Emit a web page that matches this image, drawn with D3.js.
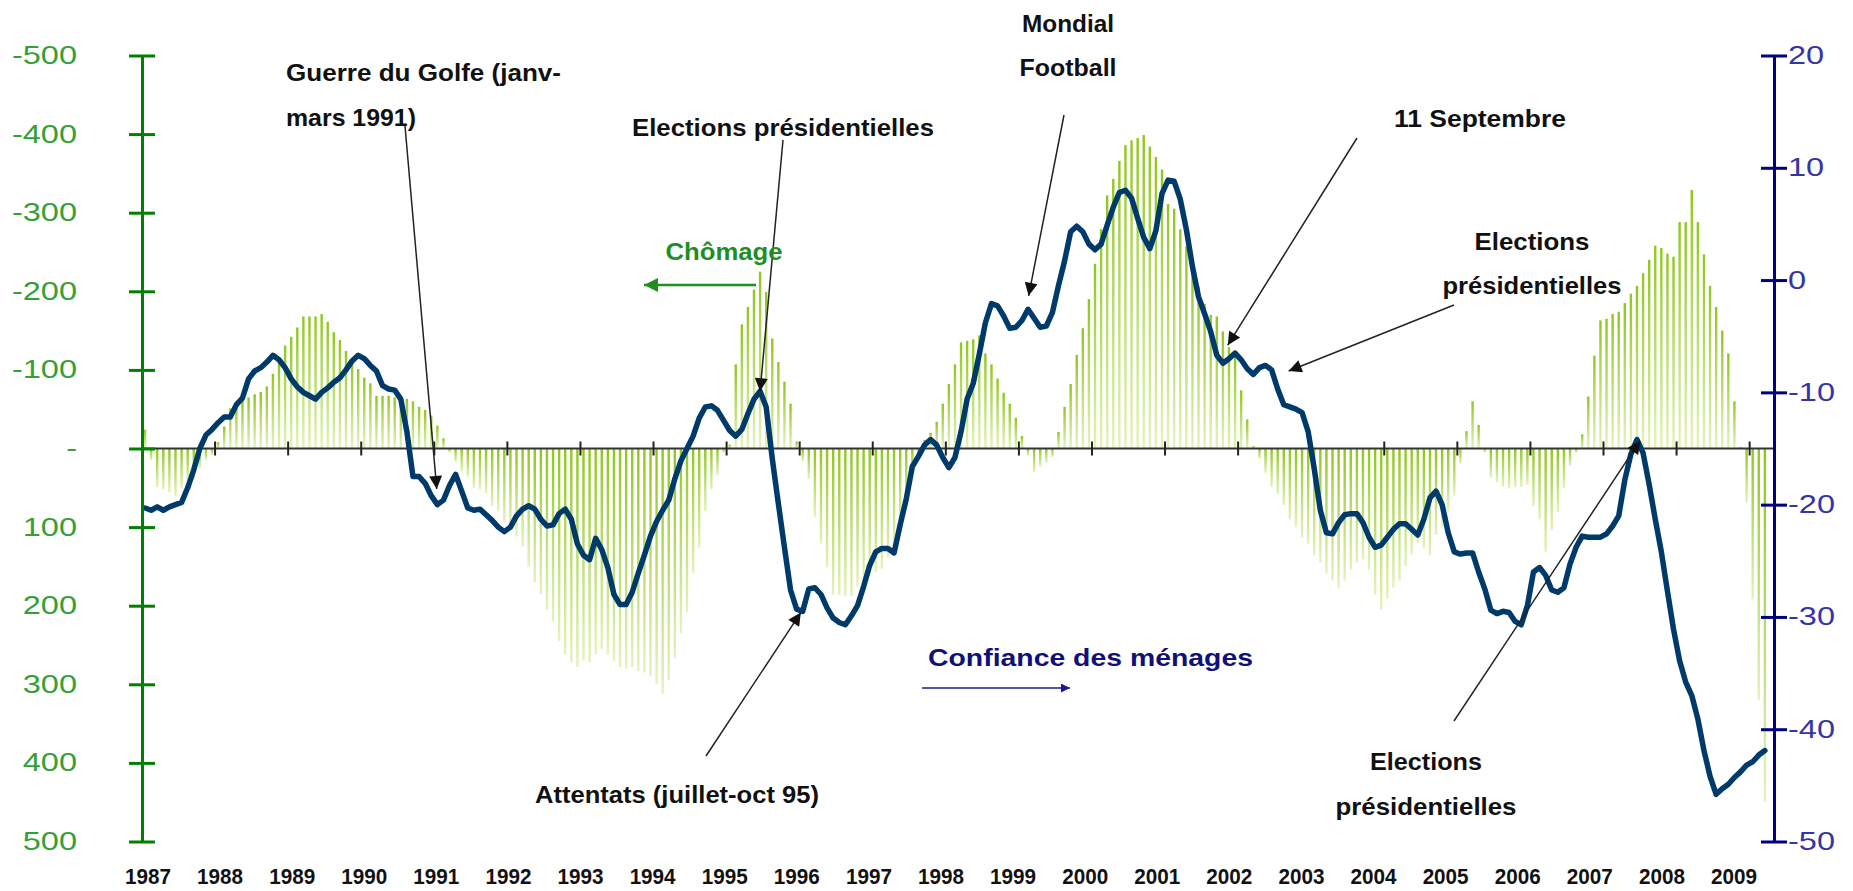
<!DOCTYPE html>
<html>
<head>
<meta charset="utf-8">
<script src="https://cdn.jsdelivr.net/npm/d3@7"></script>
<style>
  html, body { margin: 0; padding: 0; background: #fff; }
  svg { display: block; }
  .note { font-family: 'Liberation Sans Narrow', 'Arial Narrow', 'Liberation Sans', Arial, sans-serif; font-weight: bold; font-size: 24px; }
</style>
</head>
<body>
<svg id="chart"></svg>
<script>
const SVG_W = 1853;
const SVG_H = 891;
const PLOT  = { left: 142, right: 1774, top: 55.5, bottom: 841.5 };

const YEAR_LABELS = ['1987', '1988', '1989', '1990', '1991', '1992', '1993', '1994', '1995', '1996', '1997', '1998',
                     '1999', '2000', '2001', '2002', '2003', '2004', '2005', '2006', '2007', '2008', '2009'];
const LEFT_TICKS  = [-500, -400, -300, -200, -100, 0, 100, 200, 300, 400, 500];
const RIGHT_TICKS = [20, 10, 0, -10, -20, -30, -40, -50];

// variation mensuelle du chômage (milliers), jan 1987 -> mars 2009
const CHOMAGE = [
  -24, 15, 49, 52, 56, 61, 50, 42, 40, 25, 15, 8,
  -8, -28, -51, -56, -61, -65, -69, -72, -79, -95, -110, -131,
  -142, -154, -168, -168, -168, -171, -161, -148, -138, -124, -110, -101,
  -90, -83, -67, -67, -67, -65, -60, -63, -60, -53, -49, -42,
  -29, -13, 5, 17, 29, 36, 50, 52, 57, 73, 80, 94,
  105, 112, 125, 150, 170, 185, 205, 220, 245, 262, 272, 278,
  270, 272, 262, 255, 262, 270, 278, 280, 278, 283, 285, 290,
  300, 312, 295, 267, 235, 208, 158, 126, 80, 52, 34, 5,
  -5, -107, -158, -180, -202, -225, -199, -140, -110, -85, -57, -9,
  16, 39, 87, 121, 151, 186, 186, 188, 188, 176, 167, 162,
  157, 153, 139, 125, 107, 75, 34, 11, -11, -20, -34, -57,
  -82, -107, -135, -137, -139, -144, -121, -107, -89, -71, -57, -39,
  -16, 9, 30, 23, 18, 11, -21, -53, -82, -119, -153, -190,
  -235, -279, -322, -343, -366, -386, -392, -395, -399, -384, -371, -355,
  -311, -305, -279, -257, -229, -206, -184, -170, -168, -149, -129, -117,
  -74, -37, -3, 13, 31, 49, 58, 72, 90, 100, 113, 122,
  136, 145, 159, 168, 177, 168, 154, 145, 141, 154, 186, 205,
  191, 177, 168, 150, 135, 120, 127, 136, 110, 100, 80, 60,
  19, -22, -60, -30, 5, 37, 43, 49, 51, 49, 49, 46,
  73, 90, 132, 104, 81, 50, 22, 5, -18, -66, -118, -163,
  -165, -171, -174, -185, -197, -207, -223, -240, -258, -255, -248, -244,
  -288, -288, -329, -288, -247, -207, -180, -150, -121, -60, -2, 69,
  192, 320, 449
];

// confiance des ménages (solde d'opinion), jan 1987 -> mars 2009
const CONFIANCE = [
  -20.3, -20.5, -20.2, -20.5, -20.2, -20.0, -19.8, -18.5, -16.9, -15.0, -13.8, -13.3,
  -12.7, -12.2, -12.2, -11.1, -10.5, -8.8, -8.1, -7.8, -7.3, -6.7, -7.1, -7.8,
  -8.8, -9.5, -10.0, -10.3, -10.6, -10.0, -9.6, -9.1, -8.7, -8.0, -7.2, -6.7,
  -7.0, -7.6, -8.1, -9.4, -9.7, -9.8, -10.6, -13.5, -17.5, -17.5, -18.1, -19.2,
  -20.0, -19.6, -18.3, -17.3, -18.8, -20.3, -20.5, -20.4, -20.9, -21.4, -22.0, -22.4,
  -22.0, -21.0, -20.4, -20.1, -20.4, -21.3, -21.9, -21.8, -20.8, -20.4, -21.3, -23.5,
  -24.5, -24.9, -23.0, -24.0, -25.6, -28.0, -28.9, -28.9, -27.8, -26.1, -24.5, -22.8,
  -21.5, -20.5, -19.6, -17.7, -16.1, -15.0, -13.9, -12.3, -11.3, -11.2, -11.6, -12.5,
  -13.4, -13.9, -13.3, -11.9, -10.6, -9.9, -11.3, -15.9, -19.9, -23.8, -27.6, -29.3,
  -29.5, -27.5, -27.4, -28.0, -29.2, -30.1, -30.5, -30.7, -29.9, -29.0, -27.3, -25.4,
  -24.2, -23.9, -23.9, -24.3, -21.8, -19.5, -16.6, -15.7, -14.7, -14.2, -14.7, -15.8,
  -16.7, -15.8, -13.5, -10.6, -9.2, -6.6, -3.8, -2.1, -2.3, -3.2, -4.3, -4.2,
  -3.6, -2.6, -3.4, -4.2, -4.1, -2.9, -0.5, 1.7, 4.3, 4.8, 4.3, 3.2,
  2.7, 3.2, 4.9, 6.5, 7.8, 8.0, 7.3, 5.5, 3.8, 2.8, 4.4, 7.7,
  8.9, 8.8, 7.2, 4.5, 1.2, -1.5, -3.0, -4.6, -6.7, -7.4, -7.0, -6.5,
  -7.1, -7.9, -8.4, -7.8, -7.6, -8.0, -9.7, -11.1, -11.3, -11.5, -11.8, -13.5,
  -16.8, -20.5, -22.5, -22.6, -21.6, -20.9, -20.8, -20.8, -21.6, -22.9, -23.8, -23.6,
  -22.9, -22.2, -21.7, -21.7, -22.2, -22.7, -21.3, -19.4, -18.8, -20.0, -22.5, -24.2,
  -24.4, -24.3, -24.3, -26.0, -27.5, -29.4, -29.7, -29.5, -29.6, -30.4, -30.7, -29.0,
  -26.0, -25.6, -26.3, -27.6, -27.8, -27.4, -25.3, -23.8, -22.8, -22.9, -22.9, -22.9,
  -22.6, -21.9, -21.0, -17.8, -15.5, -14.2, -15.4, -18.2, -21.3, -24.2, -27.7, -31.1,
  -33.9, -35.8, -37.0, -39.1, -41.9, -44.2, -45.8, -45.3, -44.9, -44.3, -43.8, -43.2,
  -42.9, -42.3, -41.9
];

// annotations : texte, placement, et point visé (mois, valeur confiance)
const NOTES = [
  { lines: ['Guerre du Golfe (janv-', 'mars 1991)'], x: 286, ys: [81, 126], widths: [275, 130], anchor: 'start',
    from: [405, 126], tip: [48.4, -18.6] },
  { lines: ['Elections présidentielles'], x: 632, ys: [136], widths: [302], anchor: 'start',
    from: [783, 140], tip: [101.5, -9.9] },
  { lines: ['Mondial', 'Football'], x: 1068, ys: [32, 76], widths: [92, 97], anchor: 'middle',
    from: [1064, 115], tip: [145.6, -1.4] },
  { lines: ['11 Septembre'], x: 1394, ys: [127], widths: [172], anchor: 'start',
    from: [1357, 138], tip: [178.3, -5.8] },
  { lines: ['Elections', 'présidentielles'], x: 1532, ys: [250, 294], widths: [115, 179], anchor: 'middle',
    from: [1454, 305], tip: [188.3, -8.1] },
  { lines: ['Attentats (juillet-oct 95)'], x: 535, ys: [803], widths: [284], anchor: 'start',
    from: [706, 756], tip: [108.2, -29.6] },
  { lines: ['Elections', 'présidentielles'], x: 1426, ys: [770, 815], widths: [112, 181], anchor: 'middle',
    from: [1454, 721], tip: [246, -14.3] }
];

const xScale = d3.scaleLinear().domain([0, 268]).range([PLOT.left, PLOT.right]);
const yLeft  = d3.scaleLinear().domain([-500, 500]).range([PLOT.top, PLOT.bottom]);
const yRight = d3.scaleLinear().domain([20, -50]).range([PLOT.top, PLOT.bottom]);
const yearX  = d3.scalePoint().domain(YEAR_LABELS).range([148, 1734]);
const BAR_W  = 2.4;

const svg = d3.select('#chart')
  .attr('width', SVG_W)
  .attr('height', SVG_H)
  .attr('viewBox', `0 0 ${SVG_W} ${SVG_H}`);

svg.append('rect').attr('width', SVG_W).attr('height', SVG_H).attr('fill', '#fff');

const defs = svg.append('defs');
const grad = defs.append('linearGradient')
  .attr('id', 'barGrad')
  .attr('x1', 0).attr('y1', 0).attr('x2', 0).attr('y2', 1);
grad.append('stop').attr('offset', '0%').attr('stop-color', '#8fc71c');
grad.append('stop').attr('offset', '100%').attr('stop-color', '#e4f3bd');

function marker(id, color, w, h) {
  defs.append('marker')
    .attr('id', id)
    .attr('viewBox', '0 0 10 10')
    .attr('refX', 10).attr('refY', 5)
    .attr('markerUnits', 'userSpaceOnUse')
    .attr('markerWidth', w).attr('markerHeight', h)
    .attr('orient', 'auto')
    .append('path')
    .attr('d', 'M0,0 L10,5 L0,10 z')
    .attr('fill', color);
}
marker('headBlack', '#111', 17, 13);
marker('headGreen', '#1f8f1f', 16, 14);
marker('headBlue', '#1a1a8c', 12, 9);

function stretch(sel, k) {
  sel.each(function () {
    const w = this.getComputedTextLength();
    d3.select(this).attr('textLength', w * k).attr('lengthAdjust', 'spacingAndGlyphs');
  });
}

// barres chômage
svg.append('g')
  .selectAll('rect')
  .data(CHOMAGE)
  .join('rect')
  .attr('x', (d, i) => xScale(i + 0.5) - BAR_W / 2)
  .attr('y', d => Math.min(yLeft(d), yLeft(0)))
  .attr('width', BAR_W)
  .attr('height', d => Math.abs(yLeft(d) - yLeft(0)))
  .attr('fill', 'url(#barGrad)');

// ligne du zéro et graduations annuelles
const y0 = yLeft(0);
svg.append('line')
  .attr('x1', PLOT.left).attr('x2', PLOT.right)
  .attr('y1', y0).attr('y2', y0)
  .attr('stroke', '#333').attr('stroke-width', 2);
svg.append('g')
  .selectAll('line')
  .data(YEAR_LABELS)
  .join('line')
  .attr('x1', (d, i) => xScale(i * 12)).attr('x2', (d, i) => xScale(i * 12))
  .attr('y1', y0 - 7).attr('y2', y0 + 7)
  .attr('stroke', '#222').attr('stroke-width', 2);

// courbe confiance
const line = d3.line()
  .x((d, i) => xScale(i + 0.5))
  .y(d => yRight(d))
  .curve(d3.curveLinear);
svg.append('path')
  .datum(CONFIANCE)
  .attr('d', line)
  .attr('fill', 'none')
  .attr('stroke', '#003a6b')
  .attr('stroke-width', 5.5)
  .attr('stroke-linejoin', 'round')
  .attr('stroke-linecap', 'round');

// axe gauche
const gL = svg.append('g')
  .attr('transform', `translate(${PLOT.left},0)`)
  .call(d3.axisLeft(yLeft).tickValues(LEFT_TICKS).tickSize(13).tickSizeOuter(0)
    .tickFormat(d => d === 0 ? '-' : String(d)));
gL.select('.domain').attr('stroke', '#008000').attr('stroke-width', 3);
gL.selectAll('.tick line').attr('x1', -13).attr('x2', 13).attr('stroke', '#008000').attr('stroke-width', 3);
gL.selectAll('.tick text')
  .attr('x', -65)
  .attr('fill', '#35a035')
  .style('font-family', "'Liberation Sans', Arial, sans-serif")
  .style('font-size', '25px');
stretch(gL.selectAll('.tick text'), 1.3);

// axe droit
const gR = svg.append('g')
  .attr('transform', `translate(${PLOT.right},0)`)
  .call(d3.axisRight(yRight).tickValues(RIGHT_TICKS).tickSize(13).tickSizeOuter(0)
    .tickFormat(d => String(d)));
gR.select('.domain').attr('stroke', '#000080').attr('stroke-width', 3);
gR.selectAll('.tick line').attr('x1', -13).attr('x2', 13).attr('stroke', '#000080').attr('stroke-width', 3);
gR.selectAll('.tick text')
  .attr('x', 14)
  .attr('fill', '#3535a5')
  .style('font-family', "'Liberation Sans', Arial, sans-serif")
  .style('font-size', '25px');
stretch(gR.selectAll('.tick text'), 1.3);

// années
svg.append('g')
  .selectAll('text')
  .data(YEAR_LABELS)
  .join('text')
  .attr('x', d => yearX(d))
  .attr('y', 884)
  .attr('text-anchor', 'middle')
  .attr('fill', '#111')
  .style('font-family', "'Liberation Sans Narrow', 'Arial Narrow', 'Liberation Sans', Arial, sans-serif")
  .style('font-weight', 'bold')
  .style('font-size', '22px')
  .attr('textLength', 46)
  .attr('lengthAdjust', 'spacingAndGlyphs')
  .text(d => d);

// annotations
const notes = svg.append('g');
NOTES.forEach(n => {
  n.lines.forEach((t, k) => {
    notes.append('text')
      .attr('class', 'note')
      .attr('x', n.x).attr('y', n.ys[k])
      .attr('text-anchor', n.anchor)
      .attr('fill', '#111')
      .attr('textLength', n.widths[k])
      .attr('lengthAdjust', 'spacingAndGlyphs')
      .text(t);
  });
  notes.append('line')
    .attr('x1', n.from[0]).attr('y1', n.from[1])
    .attr('x2', xScale(n.tip[0])).attr('y2', yRight(n.tip[1]))
    .attr('stroke', '#222').attr('stroke-width', 1.5)
    .attr('marker-end', 'url(#headBlack)');
});

// légendes
svg.append('text')
  .attr('class', 'note')
  .attr('x', 724).attr('y', 260)
  .attr('text-anchor', 'middle')
  .attr('fill', '#1f8f1f')
  .attr('textLength', 117).attr('lengthAdjust', 'spacingAndGlyphs')
  .text('Chômage');
svg.append('line')
  .attr('x1', 756).attr('y1', 285).attr('x2', 644).attr('y2', 285)
  .attr('stroke', '#1f8f1f').attr('stroke-width', 2.5)
  .attr('marker-end', 'url(#headGreen)');

svg.append('text')
  .attr('class', 'note')
  .attr('x', 928).attr('y', 666)
  .attr('fill', '#10107a')
  .attr('textLength', 325).attr('lengthAdjust', 'spacingAndGlyphs')
  .text('Confiance des ménages');
svg.append('line')
  .attr('x1', 922).attr('y1', 688).attr('x2', 1070).attr('y2', 688)
  .attr('stroke', '#1a1a8c').attr('stroke-width', 1.5)
  .attr('marker-end', 'url(#headBlue)');
</script>
</body>
</html>
